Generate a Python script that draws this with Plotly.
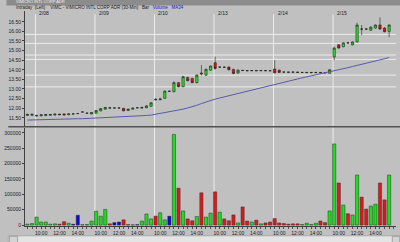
import plotly.graph_objects as go

# ---------------- data ----------------
day_labels = ["2/08", "2/09", "2/10", "2/13", "2/14", "2/15"]
session_times = ["09:30", "10:00", "10:30", "11:00", "11:30", "12:00", "12:30",
                 "13:00", "13:30", "14:00", "14:30", "15:00", "15:30"]
times = ["15:00", "15:30"] + session_times * 6
axis_time_labels = ["10:00", "12:00", "14:00"]

open_ = [11.62, 11.63, 11.59, 11.60, 11.61, 11.63, 11.64, 11.69, 11.70, 11.66, 11.70, 11.72, 11.80,
         11.74, 11.70, 11.74, 11.86, 11.95, 12.00, 12.01, 12.01, 11.99, 11.88, 11.95, 12.02, 12.00,
         12.02, 12.10, 12.46, 12.44, 12.51, 12.88, 12.86, 13.33, 13.12, 13.60, 13.55, 13.33, 13.83,
         13.72, 13.98, 14.37, 14.14, 14.13, 14.14, 14.02, 13.83, 13.97, 13.96, 13.95, 13.96, 13.95,
         13.96, 13.95, 14.04, 13.98, 13.88, 13.88, 13.87, 13.88, 13.86, 13.85, 13.86, 13.85, 13.86,
         13.85, 13.82, 14.66, 15.30, 15.20, 15.40, 15.30, 15.45, 16.12, 16.12, 16.06, 16.17, 16.33,
         16.17, 16.00]
close = [11.68, 11.68, 11.62, 11.66, 11.67, 11.67, 11.69, 11.66, 11.65, 11.70, 11.70, 11.72, 11.80,
         11.74, 11.77, 11.88, 11.98, 12.04, 12.02, 12.01, 12.01, 11.86, 11.95, 12.00, 12.02, 12.04,
         12.12, 12.28, 12.44, 12.47, 12.89, 12.88, 13.33, 13.12, 13.64, 13.43, 13.33, 13.72, 13.79,
         14.02, 14.19, 14.07, 14.14, 14.13, 14.00, 13.81, 13.98, 13.96, 13.95, 13.96, 13.95, 13.96,
         13.95, 13.95, 13.84, 13.86, 13.88, 13.87, 13.88, 13.86, 13.86, 13.86, 13.85, 13.86, 13.85,
         13.84, 14.00, 15.13, 15.13, 15.40, 15.40, 15.45, 16.33, 16.12, 16.12, 16.22, 16.33, 16.12,
         15.98, 16.33]
high = [11.70, 11.70, 11.63, 11.68, 11.69, 11.69, 11.71, 11.71, 11.72, 11.72, 11.72, 11.74, 11.82,
        11.76, 11.79, 11.90, 12.00, 12.06, 12.04, 12.03, 12.03, 12.01, 11.97, 12.02, 12.04, 12.06,
        12.14, 12.30, 12.52, 12.55, 12.92, 12.92, 13.40, 13.36, 13.68, 13.63, 13.58, 13.76, 14.24,
        14.06, 14.22, 14.68, 14.17, 14.16, 14.17, 14.05, 14.01, 13.99, 13.98, 13.98, 13.98, 13.98,
        13.98, 13.97, 14.50, 14.00, 13.90, 13.90, 13.90, 13.90, 13.88, 13.88, 13.88, 13.88, 13.88,
        13.87, 14.03, 15.20, 15.34, 15.43, 15.43, 15.48, 16.45, 16.33, 16.16, 16.26, 16.36, 16.73,
        16.22, 16.36]
low = [11.60, 11.60, 11.57, 11.58, 11.59, 11.61, 11.62, 11.64, 11.63, 11.64, 11.68, 11.70, 11.78,
       11.72, 11.68, 11.72, 11.84, 11.93, 11.98, 11.99, 11.99, 11.84, 11.86, 11.93, 12.00, 11.98,
       12.00, 12.08, 12.40, 12.42, 12.49, 12.85, 12.83, 13.09, 13.10, 13.40, 13.30, 13.30, 13.70,
       13.70, 13.95, 14.00, 14.11, 14.10, 13.97, 13.77, 13.80, 13.94, 13.93, 13.93, 13.93, 13.93,
       13.93, 13.93, 13.82, 13.84, 13.86, 13.85, 13.85, 13.84, 13.84, 13.83, 13.83, 13.83, 13.83,
       13.82, 13.79, 14.50, 15.10, 15.17, 15.37, 15.27, 15.42, 15.80, 16.09, 16.03, 16.14, 16.10,
       15.95, 15.70]
volume = [3000, 5000, 26000, 10000, 10000, 3000, 4000, 3000, 11000, 6000, 3000, 32000, 1500,
          2000, 13000, 45000, 29000, 51000, 4000, 8000, 10000, 17000, 1500, 1000, 1500, 13000,
          36000, 20000, 29000, 40000, 17000, 29000, 295000, 120000, 46000, 20000, 14000, 28000,
          105000, 26000, 39000, 108000, 42000, 20000, 14000, 33000, 7000, 59000, 13000, 10000,
          16000, 4000, 7000, 10000, 21000, 7000, 5000, 3000, 4000, 4000, 2000, 6000, 2000, 6000,
          13000, 8000, 46000, 264000, 137000, 65000, 37000, 33000, 163000, 91000, 52000, 62000,
          68000, 137000, 82000, 163000]
volume_dir = ["up", "up", "up", "up", "up", "up", "up", "down", "down", "up", "flat", "flat", "up",
              "up", "up", "up", "up", "up", "down", "flat", "flat", "down", "down", "up", "flat", "up",
              "up", "up", "down", "up", "up", "flat", "up", "down", "up", "down", "down", "up",
              "down", "up", "up", "down", "up", "down", "down", "down", "up", "down", "down", "up",
              "down", "up", "down", "down", "down", "down", "down", "down", "down", "down", "up", "up",
              "up", "up", "down", "down", "up", "up", "down", "up", "down", "up", "up", "down",
              "down", "up", "up", "down", "down", "up"]
ma34 = [11.38, 11.39, 11.39, 11.40, 11.40, 11.41, 11.41, 11.42, 11.43, 11.43, 11.44, 11.45, 11.45,
        11.46, 11.47, 11.48, 11.49, 11.50, 11.51, 11.52, 11.53, 11.54, 11.55, 11.57, 11.58, 11.60,
        11.62, 11.64, 11.68, 11.72, 11.76, 11.80, 11.85, 11.90, 11.95, 12.01, 12.07, 12.15, 12.24,
        12.33, 12.40, 12.47, 12.53, 12.59, 12.65, 12.71, 12.77, 12.83, 12.89, 12.95, 13.01, 13.07,
        13.13, 13.20, 13.25, 13.31, 13.36, 13.42, 13.47, 13.52, 13.58, 13.63, 13.68, 13.74, 13.79,
        13.84, 13.90, 13.95, 14.00, 14.06, 14.11, 14.17, 14.23, 14.29, 14.35, 14.40, 14.46, 14.52,
        14.57, 14.63]
price_ticks = [11.5, 12.0, 12.5, 13.0, 13.5, 14.0, 14.5, 15.0, 15.5, 16.0, 16.5]
volume_ticks = [0, 50000, 100000, 150000, 200000, 250000, 300000]
level_lines = [15.84, 15.375, 14.77, 14.54, 13.72, 13.11]

# ---------------- figure ----------------
x = list(range(len(times)))
day_starts = [i for i, t in enumerate(times) if t == "09:30"]
tick_idx = [i for i, t in enumerate(times) if t in axis_time_labels]

BG = "#c0c0c0"
FONT = "Liberation Sans, Arial, sans-serif"
vol_colors = {"up": "#19e019", "down": "#dd1a1a", "flat": "#0a0ad0"}

fig = go.Figure()
fig.add_trace(go.Candlestick(
    x=x, open=open_, high=high, low=low, close=close,
    increasing=dict(fillcolor="#22ee22", line=dict(color="#202020", width=0.6)),
    decreasing=dict(fillcolor="#ee1111", line=dict(color="#202020", width=0.6)),
    whiskerwidth=0, xaxis="x", yaxis="y", showlegend=False, hoverinfo="skip"))
fig.add_trace(go.Scatter(
    x=x, y=ma34, mode="lines", line=dict(color="#5a5aa8", width=1),
    xaxis="x", yaxis="y", showlegend=False, hoverinfo="skip"))
fig.add_trace(go.Bar(
    x=x, y=volume, marker=dict(color=[vol_colors[d] for d in volume_dir],
                               line=dict(color="#303030", width=0.5)),
    width=0.7, xaxis="x", yaxis="y2", showlegend=False, hoverinfo="skip"))

shapes = []
# horizontal level lines (price panel)
for lv in level_lines:
    shapes.append(dict(type="line", xref="paper", yref="y", x0=0, x1=1, y0=lv, y1=lv,
                       line=dict(color="#ececec", width=1), layer="below"))
# vertical day separators
for d in day_starts:
    shapes.append(dict(type="line", xref="x", yref="paper", x0=d - 0.25, x1=d - 0.25,
                       y0=0, y1=0.985, line=dict(color="#ececec", width=1), layer="below"))
# panel separator
shapes.append(dict(type="line", xref="paper", yref="paper", x0=-0.045, x1=1.02,
                   y0=0.4615, y1=0.4615, line=dict(color="#505050", width=1.5)))
# window title bar
shapes.append(dict(type="rect", xref="paper", yref="paper", x0=-0.05, x1=1.02,
                   y0=1.026, y1=1.06, fillcolor="#8c8c8c", line=dict(width=0)))
# scrollbar
shapes.append(dict(type="rect", xref="paper", yref="paper", x0=-0.045, x1=1.012,
                   y0=-0.08, y1=-0.046, fillcolor="#e4e4e4", line=dict(color="#909090", width=0.5)))
shapes.append(dict(type="rect", xref="paper", yref="paper", x0=-0.042, x1=-0.02,
                   y0=-0.078, y1=-0.048, fillcolor="#d4d4d4", line=dict(color="#707070", width=0.5)))
shapes.append(dict(type="rect", xref="paper", yref="paper", x0=0.99, x1=1.01,
                   y0=-0.078, y1=-0.048, fillcolor="#d4d4d4", line=dict(color="#707070", width=0.5)))

annotations = []
for lab, d in zip(day_labels, day_starts):
    annotations.append(dict(x=d - 0.25, y=0.99, xref="x", yref="paper", text=lab,
                            showarrow=False, xanchor="left", yanchor="middle", xshift=2,
                            font=dict(size=5, color="#202020", family=FONT)))
annotations.append(dict(x=-0.03, y=1.014, xref="paper", yref="paper",
                        text="Intraday  (Left)    VIMC - VIMICRO INTL CORP ADR (30-Min)   Bar   "
                             "<span style='color:#2020c0'>Volume   MA34</span>",
                        showarrow=False, xanchor="left", yanchor="middle",
                        font=dict(size=4.5, color="#202020", family=FONT)))
annotations.append(dict(x=-0.03, y=1.043, xref="paper", yref="paper",
                        text="VIMICRO INTL CORP ADR", showarrow=False, xanchor="left",
                        yanchor="middle", font=dict(size=4, color="#f0f0f0", family=FONT)))

fig.update_layout(
    width=400, height=242,
    margin=dict(l=16, r=4, t=11, b=16),
    paper_bgcolor=BG, plot_bgcolor=BG,
    font=dict(family=FONT, size=5, color="#202020"),
    shapes=shapes, annotations=annotations,
    xaxis=dict(domain=[0, 1], anchor="y2", range=[-0.53, 80.5],
               rangeslider=dict(visible=False), showgrid=False, zeroline=False,
               tickvals=tick_idx, ticktext=[times[i] for i in tick_idx],
               ticks="outside", ticklen=2, tickcolor="#404040",
               showline=True, linecolor="#404040", linewidth=1,
               tickfont=dict(size=5, color="#202020"),
               minor=dict(dtick=1, tick0=0, ticks="outside", ticklen=2, tickcolor="#505050",
                          showgrid=False)),
    yaxis=dict(domain=[0.465, 1], anchor="x", range=[11.07, 17.06],
               tickvals=price_ticks, ticktext=[f"{v:.2f}" for v in price_ticks],
               showgrid=False, zeroline=False, showline=True, linecolor="#404040",
               ticks="outside", ticklen=2, tickcolor="#404040",
               tickfont=dict(size=5, color="#202020")),
    yaxis2=dict(domain=[0, 0.456], anchor="x", range=[-3000, 316000],
                tickvals=volume_ticks, ticktext=[str(v) for v in volume_ticks],
                showgrid=False, zeroline=False, showline=True, linecolor="#404040",
                ticks="outside", ticklen=2, tickcolor="#404040",
                tickfont=dict(size=5, color="#202020")),
    bargap=0.3,
)

fig.write_html("out.html")
